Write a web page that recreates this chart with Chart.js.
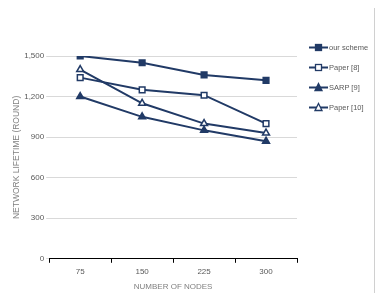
<!DOCTYPE html>
<html>
<head>
<meta charset="utf-8">
<script src="https://cdn.jsdelivr.net/npm/chart.js@4.4.1/dist/chart.umd.min.js"></script>
<style>
  html, body { margin: 0; padding: 0; background: #fff; }
  #wrap { position: relative; width: 385px; height: 296px; }
  #legend { position: absolute; left: 309px; top: 37px; font-family: "Liberation Sans", Arial, sans-serif; font-size: 7.5px; color: #595959; }
  .item { height: 20px; display: flex; align-items: center; }
  .item svg { margin-right: 1px; }
</style>
</head>
<body>
<div id="wrap">
  <canvas id="lifetimeChart" width="385" height="296"></canvas>
  <div id="legend"></div>
</div>
<script>
// chart data
const nodeCounts = ['75', '150', '225', '300'];
const ourScheme = [1500, 1450, 1360, 1320];
const paper8 = [1340, 1250, 1210, 1000];
const sarp9 = [1200, 1050, 950, 870];
const paper10 = [1400, 1150, 1000, 930];
const yTicks = [0, 300, 600, 900, 1200, 1500];

const navy = '#213a66';

const seriesDefs = [
    { label: 'our scheme', data: ourScheme, shape: 'rect', fill: navy },
    { label: 'Paper [8]', data: paper8, shape: 'rect', fill: '#ffffff' },
    { label: 'SARP [9]', data: sarp9, shape: 'triangle', fill: navy },
    { label: 'Paper [10]', data: paper10, shape: 'triangle', fill: '#ffffff' }
];

// frame line on the right
const framePlugin = {
    id: 'frame',
    afterDraw(chart) {
        const ctx = chart.ctx;
        ctx.save();
        ctx.strokeStyle = '#d0d0d0';
        ctx.lineWidth = 1;
        ctx.beginPath();
        ctx.moveTo(374.5, 8);
        ctx.lineTo(374.5, 293);
        ctx.stroke();
        ctx.restore();
    }
};

const ctx = document.getElementById('lifetimeChart').getContext('2d');
const chart = new Chart(ctx, {
    type: 'line',
    data: {
        labels: nodeCounts,
        datasets: seriesDefs.map(s => ({
            label: s.label,
            data: s.data,
            borderColor: navy,
            borderWidth: 2,
            backgroundColor: s.fill,
            pointStyle: s.shape,
            pointRadius: 4,
            pointBorderWidth: 1.5,
            pointBorderColor: navy,
            pointBackgroundColor: s.fill,
            tension: 0,
            fill: false
        }))
    },
    options: {
        responsive: false,
        animation: false,
        layout: { padding: { top: 56, right: 88, left: 12, bottom: 4 } },
        plugins: {
            legend: { display: false },
            tooltip: { enabled: false }
        },
        scales: {
            x: {
                offset: true,
                grid: {
                    offset: true,
                    drawOnChartArea: false,
                    drawTicks: true,
                    tickLength: 4,
                    color: '#000'
                },
                border: { color: '#000', width: 1 },
                ticks: {
                    color: '#595959',
                    font: { family: 'Liberation Sans', size: 8 },
                    padding: 4
                },
                title: {
                    display: true,
                    text: 'NUMBER OF NODES',
                    color: '#808080',
                    font: { family: 'Liberation Sans', size: 8 },
                    padding: { top: 2, bottom: 0 }
                }
            },
            y: {
                min: 0,
                max: 1500,
                afterBuildTicks: axis => { axis.ticks = yTicks.map(v => ({ value: v })); },
                grid: { color: '#d9d9d9', drawTicks: true, tickLength: 3 },
                border: { display: false },
                ticks: {
                    color: '#595959',
                    font: { family: 'Liberation Sans', size: 8 },
                    padding: 2,
                    callback: v => v.toLocaleString('en-US')
                },
                title: {
                    display: true,
                    text: 'NETWORK LIFETIME (ROUND)',
                    color: '#808080',
                    font: { family: 'Liberation Sans', size: 8.5 },
                    padding: { top: 0, bottom: 0 }
                }
            }
        }
    },
    plugins: [framePlugin]
});

// HTML legend
const legendEl = document.getElementById('legend');
seriesDefs.forEach(s => {
    const marker = s.shape === 'rect'
        ? `<rect x="6.5" y="3.5" width="6" height="6" fill="${s.fill}" stroke="${navy}" stroke-width="1.3"/>`
        : `<polygon points="9.5,2.5 13,9.5 6,9.5" fill="${s.fill}" stroke="${navy}" stroke-width="1.3"/>`;
    const row = document.createElement('div');
    row.className = 'item';
    row.innerHTML = `<svg width="19" height="13"><line x1="0" y1="6.5" x2="19" y2="6.5" stroke="${navy}" stroke-width="2"/>${marker}</svg><span>${s.label}</span>`;
    legendEl.appendChild(row);
});
</script>
</body>
</html>
